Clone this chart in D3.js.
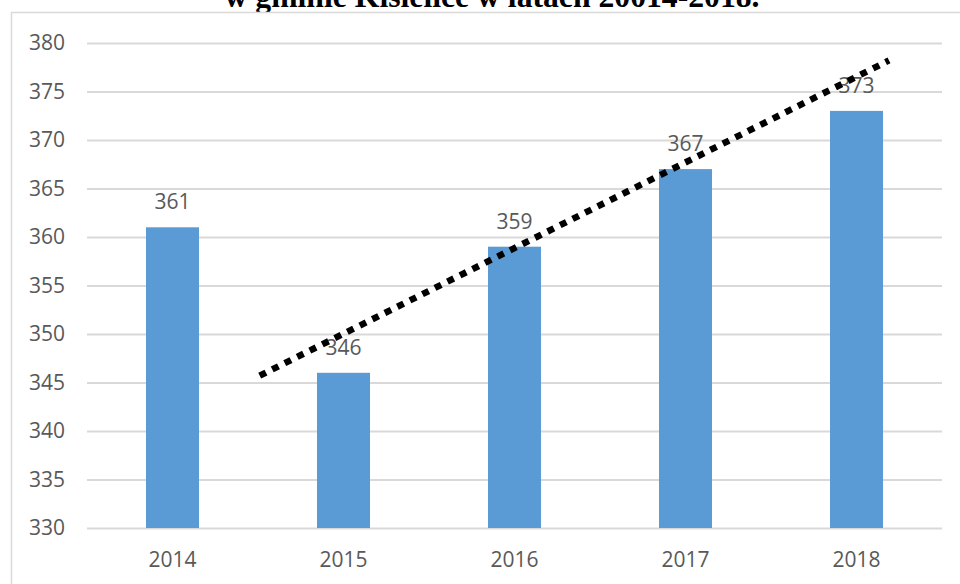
<!DOCTYPE html>
<html>
<head>
<meta charset="utf-8">
<script src="https://cdn.jsdelivr.net/npm/d3@7"></script>
<style>
  body { margin: 0; background: #fff; overflow: hidden; }
</style>
</head>
<body>
<script>
const years = ['2014', '2015', '2016', '2017', '2018'];
const values = [361, 346, 359, 367, 373];
const yTicks = [330, 335, 340, 345, 350, 355, 360, 365, 370, 375, 380];
// hand drawn trend line, in category index / value units
const trendIndex = [0.51, 4.19];
const trendValue = [345.7, 378.2];
const title = 'w gminie Kisielice w latach 20014-2018.';

const svgWidth = 960;
const svgHeight = 584;
const margin = { top: 43, bottom: 56, left: 87, right: 18 };

const svg = d3.select('body')
    .append('svg')
    .attr('width', svgWidth)
    .attr('height', svgHeight);

// title, partly cut off at the top
svg.append('text')
    .attr('x', 492)
    .attr('y', 7)
    .attr('text-anchor', 'middle')
    .style('font-family', 'Liberation Serif')
    .style('font-weight', 'bold')
    .style('font-size', '32px')
    .attr('textLength', 535)
    .attr('lengthAdjust', 'spacingAndGlyphs')
    .text(title);

// chart frame
svg.append('rect')
    .attr('x', 11.5)
    .attr('y', 12.5)
    .attr('width', 1000)
    .attr('height', 700)
    .attr('fill', '#fff')
    .attr('stroke', '#d9d9d9')
    .attr('stroke-width', 1.5);

const x = d3.scaleBand()
    .domain(years)
    .range([margin.left, svgWidth - margin.right])
    .paddingInner(0.69)
    .paddingOuter(0.345);

const y = d3.scaleLinear()
    .domain([330, 380])
    .range([svgHeight - margin.bottom, margin.top]);

const labelFont = 'Open Sans';

// gridlines + y labels
const yAxis = svg.append('g')
    .attr('transform', `translate(${margin.left},0)`)
    .call(d3.axisLeft(y)
        .tickValues(yTicks)
        .tickSize(-(svgWidth - margin.left - margin.right))
        .tickPadding(22));
yAxis.select('.domain').remove();
yAxis.selectAll('line')
    .attr('stroke', '#d9d9d9')
    .attr('stroke-width', 2);
yAxis.selectAll('text')
    .style('font-family', labelFont)
    .style('font-size', '21px')
    .attr('fill', '#595959');

// bars
svg.selectAll('.bar')
    .data(values)
    .enter()
    .append('rect')
    .attr('class', 'bar')
    .attr('x', (d, i) => x(years[i]))
    .attr('y', d => y(d))
    .attr('width', x.bandwidth())
    .attr('height', d => y(330) - y(d))
    .attr('fill', '#5b9bd5');

// x labels
svg.selectAll('.xlabel')
    .data(years)
    .enter()
    .append('text')
    .attr('class', 'xlabel')
    .attr('x', d => x(d) + x.bandwidth() / 2)
    .attr('y', 567)
    .attr('text-anchor', 'middle')
    .style('font-family', labelFont)
    .style('font-size', '21px')
    .attr('fill', '#595959')
    .text(d => d);

// value labels
svg.selectAll('.vlabel')
    .data(values)
    .enter()
    .append('text')
    .attr('class', 'vlabel')
    .attr('x', (d, i) => x(years[i]) + x.bandwidth() / 2)
    .attr('y', d => y(d) - 18)
    .attr('text-anchor', 'middle')
    .style('font-family', labelFont)
    .style('font-size', '21px')
    .attr('fill', '#595959')
    .text(d => d);

// dotted trend line
const xIndex = i => x(years[0]) + x.bandwidth() / 2 + i * x.step();
svg.append('line')
    .attr('x1', xIndex(trendIndex[0]))
    .attr('y1', y(trendValue[0]))
    .attr('x2', xIndex(trendIndex[1]))
    .attr('y2', y(trendValue[1]))
    .attr('stroke', '#000')
    .attr('stroke-width', 6.5)
    .attr('stroke-dasharray', '7 7');
</script>
</body>
</html>
